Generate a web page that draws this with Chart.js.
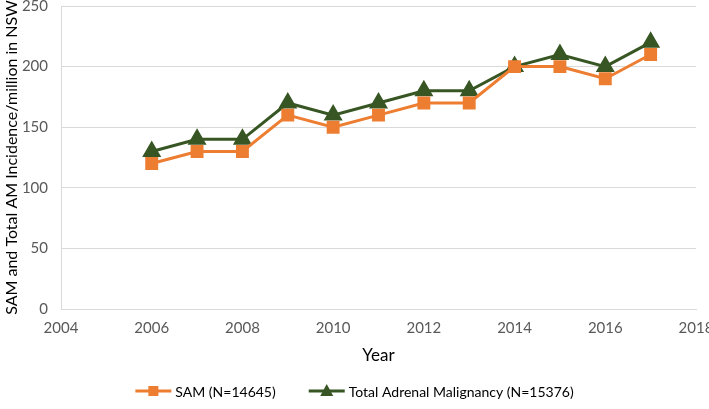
<!DOCTYPE html>
<html>
<head>
<meta charset="utf-8">
<script src="https://cdn.jsdelivr.net/npm/chart.js@4"></script>
<style>
  body { margin: 0; background: #fff; }
  #wrap { width: 709px; height: 409px; }
</style>
</head>
<body>
<div id="wrap"><canvas id="incidence" width="709" height="409"></canvas></div>
<script>
// data
years = [2006, 2007, 2008, 2009, 2010, 2011, 2012, 2013, 2014, 2015, 2016, 2017]
samValues = [120, 130, 130, 160, 150, 160, 170, 170, 200, 200, 190, 210]
totalValues = [130, 140, 140, 170, 160, 170, 180, 180, 200, 210, 200, 220]
seriesNames = ['SAM (N=14645)', 'Total Adrenal Malignancy (N=15376)']
xTicks = [2004, 2006, 2008, 2010, 2012, 2014, 2016, 2018]
yTicks = [0, 50, 100, 150, 200, 250]

orange = '#ED7D31'
green = '#375623'
fontName = 'Lato'

toPoints = function(vals) {
    return years.map((y, i) => ({x: y, y: vals[i]}))
}

// legend drawn by hand: line + marker, then the text
bottomLegend = {
    id: 'bottomLegend',
    afterDraw: function(chart) {
        g = chart.ctx
        g.save()
        g.font = '14px ' + fontName
        g.textBaseline = 'middle'
        swatchW = 36
        textGap = 4
        itemGap = 33
        widths = chart.data.datasets.map(ds => swatchW + textGap + g.measureText(ds.label).width)
        total = widths.reduce((a, b) => a + b, 0) + itemGap * (widths.length - 1)
        x = (chart.width - total) / 2
        y = 391
        chart.data.datasets.forEach((ds, i) => {
            g.strokeStyle = ds.borderColor
            g.fillStyle = ds.borderColor
            g.lineWidth = 3
            g.beginPath()
            g.moveTo(x, y)
            g.lineTo(x + swatchW, y)
            g.stroke()
            cx = x + swatchW / 2
            if (ds.pointStyle === 'rect') {
                g.fillRect(cx - 5, y - 5, 10, 10)
            } else {
                g.beginPath()
                g.moveTo(cx, y - 7)
                g.lineTo(cx + 6.5, y + 5)
                g.lineTo(cx - 6.5, y + 5)
                g.closePath()
                g.fill()
            }
            g.fillStyle = '#000'
            g.fillText(ds.label, x + swatchW + textGap, y + 1)
            x += widths[i] + itemGap
        })
        g.restore()
    }
}

const ctx = document.getElementById('incidence').getContext('2d')
const myChart = new Chart(ctx, {
    type: 'line',
    data: {
        datasets: [{
            label: seriesNames[0],
            data: toPoints(samValues),
            borderColor: orange,
            backgroundColor: orange,
            borderWidth: 3,
            pointStyle: 'rect',
            pointRadius: 7,
            pointHoverRadius: 7
        }, {
            label: seriesNames[1],
            data: toPoints(totalValues),
            borderColor: green,
            backgroundColor: green,
            borderWidth: 3,
            pointStyle: 'triangle',
            pointRadius: 8,
            pointHoverRadius: 8
        }]
    },
    options: {
        responsive: false,
        animation: false,
        layout: { autoPadding: false, padding: { left: 0, right: 0, top: 0, bottom: 36 } },
        plugins: {
            tooltip: { enabled: false },
            legend: { display: false }
        },
        scales: {
            x: {
                type: 'linear',
                min: 2004,
                max: 2018,
                afterBuildTicks: function(s) { s.ticks = xTicks.map(v => ({value: v})) },
                afterFit: function(s) { s.height = 64; s.paddingRight = 13; s.paddingLeft = 0 },
                grid: { display: false, drawTicks: false },
                border: { color: '#d9d9d9', width: 1 },
                ticks: {
                    color: '#595959',
                    font: { family: fontName, size: 15 },
                    padding: 10,
                    maxRotation: 0,
                    callback: v => String(v)
                },
                title: {
                    display: true,
                    text: 'Year',
                    color: '#000',
                    font: { family: fontName, size: 17 },
                    padding: { top: 4, bottom: 7 }
                }
            },
            y: {
                min: 0,
                max: 250,
                afterBuildTicks: function(s) { s.ticks = yTicks.map(v => ({value: v})) },
                afterFit: function(s) { s.width = 61; s.paddingTop = 6 },
                grid: { color: '#d9d9d9', lineWidth: 1, drawTicks: false },
                border: { display: true, color: '#d9d9d9', width: 1 },
                ticks: {
                    color: '#595959',
                    font: { family: fontName, size: 15 },
                    padding: 13
                },
                title: {
                    display: true,
                    text: 'SAM and Total AM Incidence/million in NSW',
                    color: '#000',
                    font: { family: fontName, size: 16 },
                    padding: { top: 2, bottom: 4 }
                }
            }
        }
    },
    plugins: [bottomLegend]
})
</script>
</body>
</html>
